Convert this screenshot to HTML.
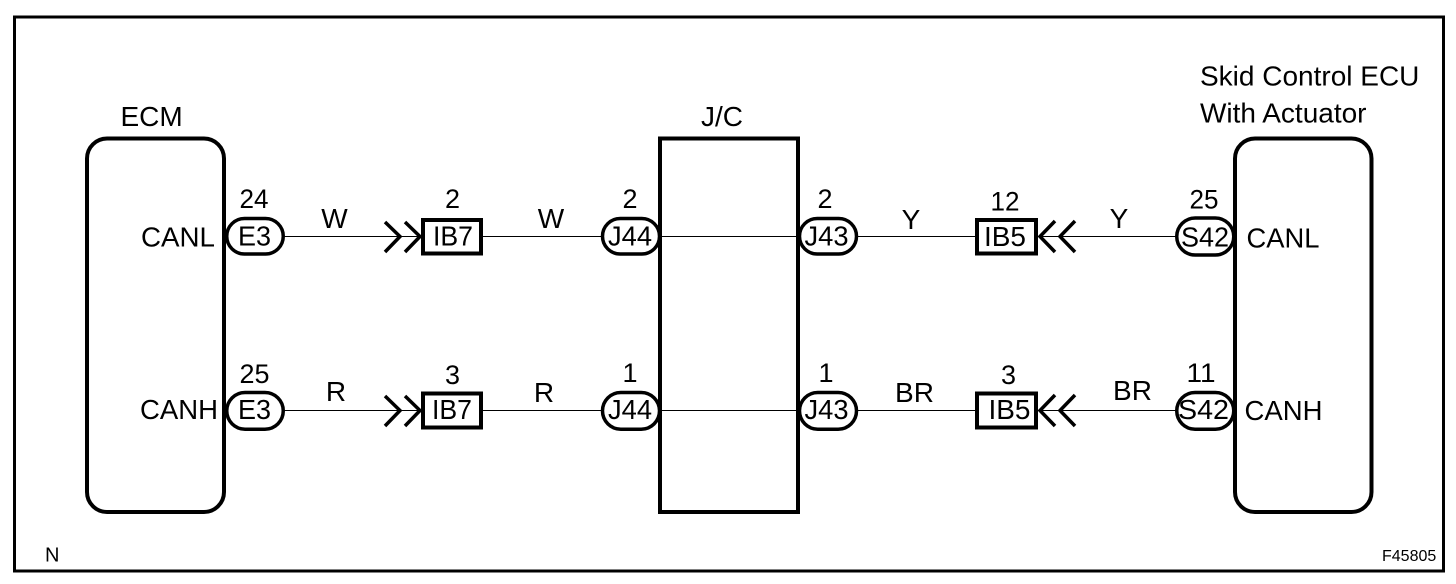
<!DOCTYPE html>
<html><head><meta charset="utf-8">
<style>
html,body{margin:0;padding:0;background:#fff;width:1456px;height:584px;overflow:hidden}
svg{display:block}
text{font-family:"Liberation Sans",sans-serif;fill:#000;font-size:28px}
.m{text-anchor:middle}
.p{fill:#fff;stroke:#000;stroke-width:3.5}
.x{fill:#fff;stroke:#000;stroke-width:4}
.w{fill:none;stroke:#000;stroke-width:1}
.c{fill:none;stroke:#000;stroke-width:3.5}
.b{fill:none;stroke:#000;stroke-width:4}
.n{font-size:27px}
</style></head><body>
<svg width="1456" height="584" viewBox="0 0 1456 584" xmlns="http://www.w3.org/2000/svg">
<rect x="14.5" y="17" width="1429" height="554" fill="none" stroke="#000" stroke-width="3"/>

<!-- wires -->
<path class="w" d="M284 236.500H421M483 236.500H601M660 236.500H799M857 236.500H976M1038 236.500H1176"/>
<path class="w" d="M284 410.500H421M483 410.500H601M660 410.500H799M857 410.500H976M1038 410.500H1176"/>

<!-- connector pills -->
<rect class="p" x="226.750" y="218.500" width="56.500" height="35.500" rx="17.750"/>
<rect class="p" x="226.750" y="392.500" width="56.500" height="36.700" rx="18.300"/>
<rect class="p" x="602.500" y="218.500" width="57" height="35.500" rx="17.750"/>
<rect class="p" x="602.500" y="392.500" width="57" height="36.700" rx="18.300"/>
<rect class="p" x="799.500" y="218.500" width="57" height="35.500" rx="17.750"/>
<rect class="p" x="799.500" y="392.500" width="57" height="36.700" rx="18.300"/>
<rect class="p" x="1176.750" y="218" width="57" height="37" rx="18.500"/>
<rect class="p" x="1176.750" y="392.500" width="57" height="36.700" rx="18.300"/>

<!-- blocks -->
<rect class="b" x="87" y="138.500" width="137" height="373.500" rx="20"/>
<rect class="b" x="660" y="138.500" width="138" height="373.500"/>
<rect class="b" x="1235" y="138.500" width="136.500" height="373.500" rx="20"/>

<!-- inline boxes -->
<rect class="x" x="423" y="220" width="58" height="33.500"/>
<rect class="x" x="423" y="393.500" width="58" height="34"/>
<rect class="x" x="977" y="220" width="59" height="33.500"/>
<rect class="x" x="977" y="393.500" width="59" height="34"/>

<!-- chevrons -->
<path class="c" d="M385 222L400 236.500L385 252M405 222L420 236.500L405 252"/>
<path class="c" d="M385 396L400 410.500L385 426M405 396L420 410.500L405 426"/>
<path class="c" d="M1055 221L1040 236.500L1055 252M1075 221L1060 236.500L1075 252"/>
<path class="c" d="M1055 395L1040 410.500L1055 426M1075 395L1060 410.500L1075 426"/>

<!-- titles -->
<text x="120.500" y="126">ECM</text>
<text x="701" y="126">J/C</text>
<text x="1200" y="85.500">Skid Control ECU</text>
<text x="1200" y="122.500">With Actuator</text>

<!-- pin names -->
<text x="141" y="246.500" textLength="74" lengthAdjust="spacingAndGlyphs">CANL</text>
<text x="140" y="419" textLength="78" lengthAdjust="spacingAndGlyphs">CANH</text>
<text x="1246.500" y="247.500" textLength="73" lengthAdjust="spacingAndGlyphs">CANL</text>
<text x="1244.500" y="420" textLength="78" lengthAdjust="spacingAndGlyphs">CANH</text>

<!-- pin numbers -->
<text class="n m" x="254" y="208" textLength="29" lengthAdjust="spacingAndGlyphs">24</text>
<text class="n m" x="254.500" y="383" textLength="30" lengthAdjust="spacingAndGlyphs">25</text>
<text class="n m" x="452.500" y="208">2</text>
<text class="n m" x="452.500" y="384">3</text>
<text class="n m" x="630" y="208">2</text>
<text class="n m" x="630" y="382">1</text>
<text class="n m" x="825" y="208">2</text>
<text class="n m" x="826" y="382">1</text>
<text class="n m" x="1005" y="210.500" textLength="29" lengthAdjust="spacingAndGlyphs">12</text>
<text class="n m" x="1008.500" y="384">3</text>
<text class="n m" x="1204" y="208.500" textLength="29" lengthAdjust="spacingAndGlyphs">25</text>
<text class="n m" x="1201" y="382" textLength="29" lengthAdjust="spacingAndGlyphs">11</text>

<!-- connector labels -->
<text class="m" x="254.500" y="245.500" textLength="33" lengthAdjust="spacingAndGlyphs">E3</text>
<text class="m" x="254.500" y="419" textLength="33" lengthAdjust="spacingAndGlyphs">E3</text>
<text class="m" x="453" y="245.500" textLength="40" lengthAdjust="spacingAndGlyphs">IB7</text>
<text class="m" x="452" y="419" textLength="40" lengthAdjust="spacingAndGlyphs">IB7</text>
<text class="m" x="630" y="245.500" textLength="44" lengthAdjust="spacingAndGlyphs">J44</text>
<text class="m" x="630" y="419" textLength="44" lengthAdjust="spacingAndGlyphs">J44</text>
<text class="m" x="826.500" y="245.500" textLength="44" lengthAdjust="spacingAndGlyphs">J43</text>
<text class="m" x="826.500" y="419" textLength="44" lengthAdjust="spacingAndGlyphs">J43</text>
<text class="m" x="1005" y="246" textLength="42" lengthAdjust="spacingAndGlyphs">IB5</text>
<text class="m" x="1009.500" y="419" textLength="42" lengthAdjust="spacingAndGlyphs">IB5</text>
<text class="m" x="1205" y="246.500" textLength="48" lengthAdjust="spacingAndGlyphs">S42</text>
<text class="m" x="1203.500" y="419" textLength="51" lengthAdjust="spacingAndGlyphs">S42</text>

<!-- wire colours -->
<text class="m" x="334.500" y="228">W</text>
<text class="m" x="551" y="228">W</text>
<text class="m" x="911" y="229">Y</text>
<text class="m" x="1119" y="228">Y</text>
<text class="m" x="336" y="401">R</text>
<text class="m" x="544" y="402">R</text>
<text class="m" x="914.500" y="402">BR</text>
<text class="m" x="1132.500" y="400">BR</text>

<!-- footer -->
<text x="45" y="561.500" style="font-size:20px">N</text>
<text x="1382" y="561" style="font-size:16px">F45805</text>
</svg>
</body></html>
